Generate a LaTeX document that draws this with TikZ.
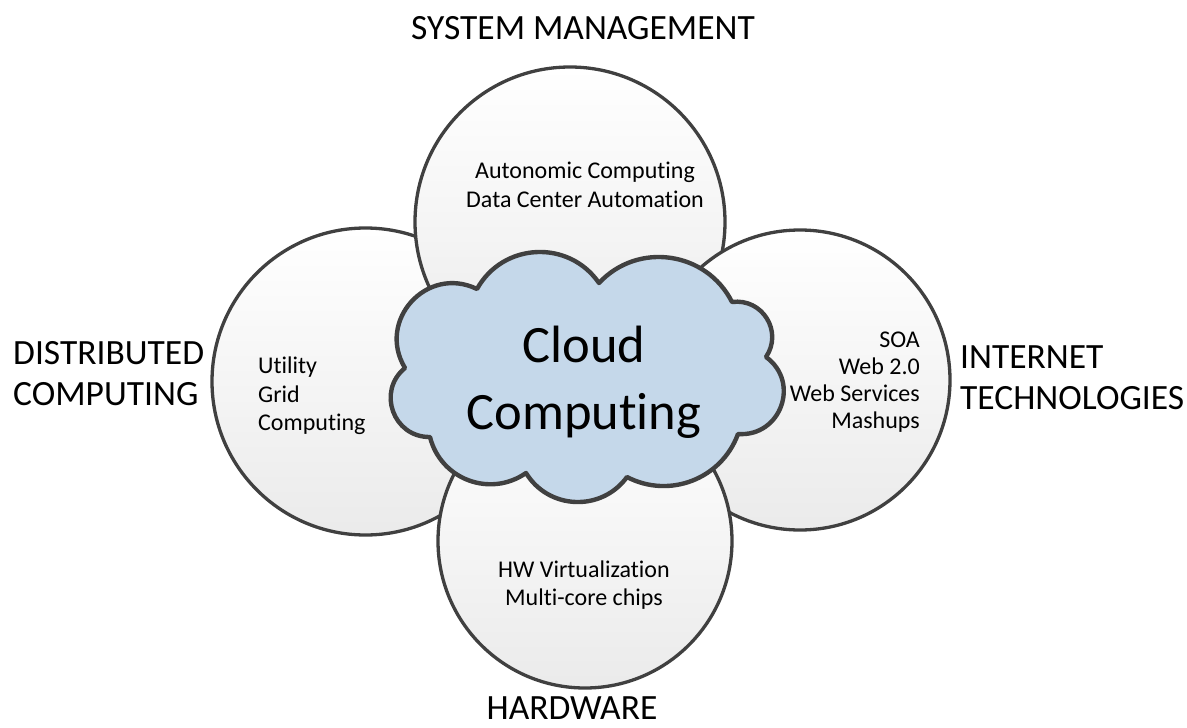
\documentclass[tikz,border=0pt]{standalone}
\usepackage{fontspec}
\setmainfont{Carlito}
\usetikzlibrary{calc}
\newcommand\tI{t\kern0pt i}
\definecolor{edge}{HTML}{404040}
\definecolor{cloudfill}{RGB}{197,216,234}
\tikzset{
  bubble/.style={circle, draw=edge, line width=3.3pt, inner sep=0pt,
    top color=white, bottom color=black!8},
  cloudline/.style={draw=edge, fill=cloudfill, line width=4.4pt, line join=round},
  biglabel/.style={inner sep=0pt, font=\fontsize{35.5}{41}\selectfont},
  smalltext/.style={inner sep=0pt, font=\fontsize{24}{28.5}\selectfont},
  cloudtext/.style={inner sep=0pt, align=center, font=\fontsize{52.5}{67}\selectfont}
}
\begin{document}
\begin{tikzpicture}[x=1pt,y=-1pt]
\useasboundingbox (0,0) rectangle (1187,728);
% circles
\node[bubble, minimum size=307pt] (cleft) at (365.5,381.5) {};
\node[bubble, minimum size=310pt] (ctop) at (570,222) {};
\node[bubble, minimum size=300pt] (cright) at (800,380) {};
\node[bubble, minimum size=294pt] (cbottom) at (585,541) {};
% cloud
\coordinate (P1) at (477,289);
\coordinate (P2) at (599,283);
\coordinate (P3) at (732,302);
\coordinate (P4) at (766,357);
\coordinate (P5) at (738,434);
\coordinate (P6) at (627,477);
\coordinate (P7) at (526,473);
\coordinate (P8) at (430,437);
\coordinate (P9) at (405,368);
\path[cloudline] (P1)
  .. controls ($(P1)!0.23!(P2)!45.3pt!90:(P2)$) and ($(P1)!0.77!(P2)!45.3pt!90:(P2)$) .. (P2)
  .. controls ($(P2)!0.242!(P3)!46.7pt!90:(P3)$) and ($(P2)!0.758!(P3)!46.7pt!90:(P3)$) .. (P3)
  .. controls ($(P3)!0.194!(P4)!28pt!90:(P4)$) and ($(P3)!0.806!(P4)!28pt!90:(P4)$) .. (P4)
  .. controls ($(P4)!0.143!(P5)!41.3pt!90:(P5)$) and ($(P4)!0.857!(P5)!41.3pt!90:(P5)$) .. (P5)
  .. controls ($(P5)!0.265!(P6)!36pt!90:(P6)$) and ($(P5)!0.735!(P6)!36pt!90:(P6)$) .. (P6)
  .. controls ($(P6)!0.238!(P7)!36pt!90:(P7)$) and ($(P6)!0.762!(P7)!36pt!90:(P7)$) .. (P7)
  .. controls ($(P7)!0.242!(P8)!36pt!90:(P8)$) and ($(P7)!0.758!(P8)!36pt!90:(P8)$) .. (P8)
  .. controls ($(P8)!0.164!(P9)!34.7pt!90:(P9)$) and ($(P8)!0.836!(P9)!34.7pt!90:(P9)$) .. (P9)
  .. controls ($(P9)!0.147!(P1)!53.3pt!90:(P1)$) and ($(P9)!0.853!(P1)!53.3pt!90:(P1)$) .. (P1)
  -- cycle;
\node[cloudtext, anchor=north] (cc) at (584,326) {Cloud\\Compu\tI ng};
% inner texts
\node[smalltext, anchor=north, align=center] (ttop) at (585,162) {Autonomic Compu\tI ng\\Data Center Automa\tI on};
\node[smalltext, anchor=north west, align=left] (tleft) at (258,357) {U\tI lity\\Grid\\Compu\tI ng};
\node[smalltext, anchor=north east, align=right, font=\fontsize{24}{27}\selectfont] (tright) at (920,332) {SOA\\Web 2.0\\Web Services\\Mashups};
\node[smalltext, anchor=north, align=center, font=\fontsize{24}{28}\selectfont] (tbottom) at (584,561) {HW Virtualiza\tI on\\Mul\tI-core chips};
% outer labels
\node[biglabel, anchor=north] (lsys) at (583,16) {SYSTEM MANAGEMENT};
\node[biglabel, anchor=north west, align=left] (ldist) at (13,341) {DISTRIBUTED\\COMPUTING};
\node[biglabel, anchor=north west, align=left] (lint) at (960,346) {INTERNET\\TECHNOLOGIES};
\node[biglabel, anchor=north] (lhw) at (572,697) {HARDWARE};
\end{tikzpicture}
\end{document}
